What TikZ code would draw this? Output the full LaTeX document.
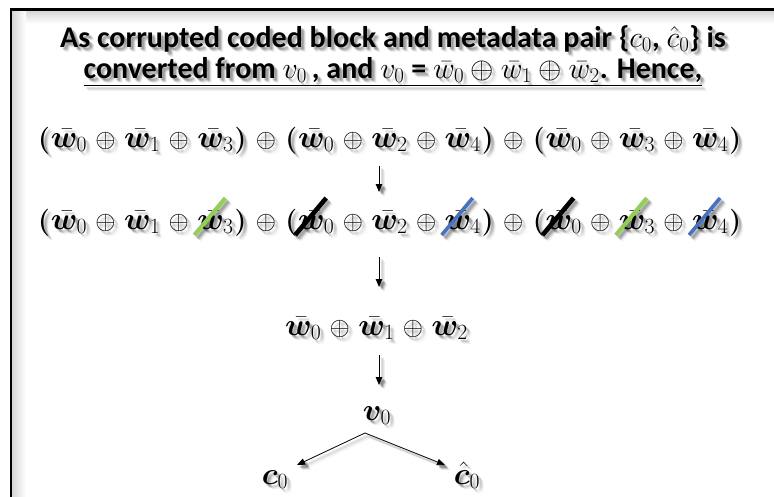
\RequirePackage{fix-cm}
\documentclass[tikz,border=0pt]{standalone}
\usepackage{amsmath}
\usepackage{bm}
\usepackage[no-math]{fontspec}
\setmainfont{Carlito}
\usetikzlibrary{arrows.meta,calc}

\definecolor{slashgreen}{HTML}{92D050}
\definecolor{slashblue}{HTML}{4472C4}

\newcommand\wbar[1]{\bar{\bm{w}}_{#1}}

% token lists for the XOR rows: style/text
\newcommand\xorterms{partok/\bm{(}, wtok/\wbar0, optok/\oplus, wtok/\wbar1, optok/\oplus, wtok/\wbar3, partok/\bm{)},
  optok/\oplus,
  partok/\bm{(}, wtok/\wbar0, optok/\oplus, wtok/\wbar2, optok/\oplus, wtok/\wbar4, partok/\bm{)},
  optok/\oplus,
  partok/\bm{(}, wtok/\wbar0, optok/\oplus, wtok/\wbar3, optok/\oplus, wtok/\wbar4, partok/\bm{)}}
\newcommand\sumterms{wtok/\wbar0, optok/\oplus, wtok/\wbar1, optok/\oplus, wtok/\wbar2}

\tikzset{
  tok/.style={inner sep=0pt, outer sep=0pt, minimum size=0pt, anchor=base west},
  wtok/.style={tok, font=\fontsize{31}{31}\selectfont},
  optok/.style={tok, inner xsep=8.4pt, font=\fontsize{26}{26}\selectfont},
  partok/.style={tok, inner xsep=1pt, font=\fontsize{27}{27}\selectfont},
  titletext/.style={inner sep=0pt, anchor=base, font=\fontsize{30}{34}\selectfont\bfseries},
  flowarrow/.style={line width=0.8pt, -{Triangle[length=8pt,width=6.5pt]}},
  strike/.style={line width=4pt, line cap=butt},
  greenstrike/.style={strike, draw=slashgreen},
  bluestrike/.style={strike, line width=3.6pt, draw=slashblue},
  blackstrike/.style={strike, line width=4.6pt, draw=black},
}

% a row of math tokens, each node set on the baseline right after the previous one
\newcommand\tokrow[3]{%
  \node[tok] (#1-0) at #2 {};
  \foreach \sty/\txt [count=\i] in #3 {%
    \pgfmathtruncatemacro\prev{\i-1}%
    \node[\sty] (#1-\i) at (#1-\prev.base east) {$\txt$};
  }%
}

% a slash through one token
\newcommand\strikeout[2]{%
  \draw[#1] ([xshift=-3pt,yshift=-6pt]#2.base west) -- ++(31,-37);
}

% the whole derivation, with node names prefixed by #1
\newcommand\drawscene[1]{%
  \node[titletext] (#1-t1) at (393,47)
    {As corrupted coded block and metadata pair \{$c_0$, $\hat{c}_0$\} is};
  \node[titletext] (#1-t2) at (393,78)
    {\underline{converted from $v_0$\,, and $v_0$ = $\bar{w}_0 \oplus \bar{w}_1 \oplus \bar{w}_2$. Hence,}};
  \tokrow{#1-r3}{(37,147)}{\xorterms}
  \tokrow{#1-r4}{(37,229)}{\xorterms}
  \tokrow{#1-r5}{(285,335)}{\sumterms}
  \node[wtok, anchor=base] (#1-v) at (377,420) {$\bm{v}_0$};
  \node[wtok, anchor=base] (#1-c) at (275,484) {$\bm{c}_0$};
  \node[wtok, anchor=base] (#1-ch) at (467,484) {$\hat{\bm{c}}_0$};
  % arrow end points
  \coordinate (#1-a1s) at (379,166);
  \coordinate (#1-a1e) at (379,192);
  \coordinate (#1-a2s) at (379,257);
  \coordinate (#1-a2e) at (379,287);
  \coordinate (#1-a3s) at (379,355);
  \coordinate (#1-a3e) at (379,385);
  \coordinate (#1-br) at (365,433);
  \coordinate (#1-cl) at (297,465);
  \coordinate (#1-cr) at (445,465);
  \draw[flowarrow] (#1-a1s) -- (#1-a1e);
  \draw[flowarrow] (#1-a2s) -- (#1-a2e);
  \draw[flowarrow] (#1-a3s) -- (#1-a3e);
  \draw[flowarrow] (#1-br) -- (#1-cl);
  \draw[flowarrow] (#1-br) -- (#1-cr);
  % cancelled terms
  \strikeout{greenstrike}{#1-r4-6}
  \strikeout{blackstrike}{#1-r4-10}
  \strikeout{bluestrike}{#1-r4-14}
  \strikeout{blackstrike}{#1-r4-18}
  \strikeout{greenstrike}{#1-r4-20}
  \strikeout{bluestrike}{#1-r4-22}
}

\begin{document}
\begin{tikzpicture}[x=1pt,y=-1pt]
\useasboundingbox (0,0) rectangle (774,496);
\fill[white] (0,0) rectangle (774,496);
% frame with a soft inner shadow
\shade[top color=black!16, bottom color=white] (12.4,10.7) rectangle (774,24);
\shade[left color=black!16, right color=white] (12.4,10.7) rectangle (26,496);
\draw[line width=2.5pt] (11.2,500) -- (11.2,9.5) -- (780,9.5);
% soft drop shadow of all content
\foreach \dx/\dy [count=\k] in {2/2,3/3,4/4,3/2,2/3,4/3,3/4,5/5}{
  \begin{scope}[xshift=\dx pt, yshift=-\dy pt, opacity=0.06,
      greenstrike/.style={strike, draw=black},
      bluestrike/.style={strike, draw=black},
      blackstrike/.style={strike, draw=black}]
    \drawscene{sh\k}
  \end{scope}
}
\drawscene{main}
\end{tikzpicture}
\end{document}
